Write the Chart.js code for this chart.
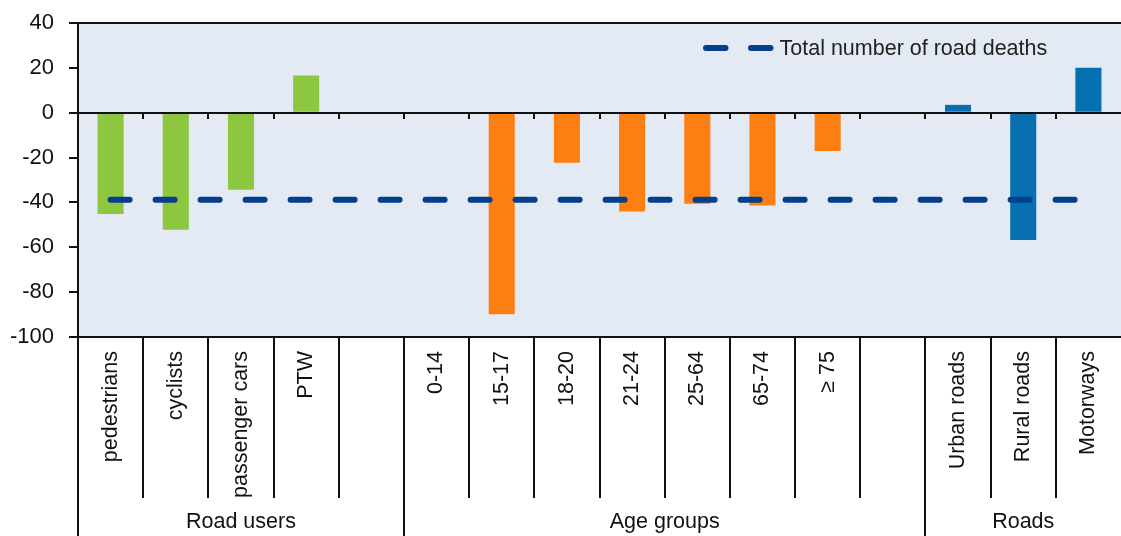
<!DOCTYPE html>
<html>
<head>
<meta charset="utf-8">
<script src="https://cdn.jsdelivr.net/npm/chart.js@4/dist/chart.umd.min.js"></script>
<style>
  html, body { margin: 0; padding: 0; background: #fff; }
  #wrap { width: 1121px; height: 536px; position: relative; }
</style>
</head>
<body>
<div id="wrap"><canvas id="chart"></canvas></div>
<script>
// Change in road deaths (%) by road user, age group and road type
const categories = ['pedestrians', 'cyclists', 'passenger cars', 'PTW', '',
  '0-14', '15-17', '18-20', '21-24', '25-64', '65-74', '\u2265 75', '',
  'Urban roads', 'Rural roads', 'Motorways'];
const changeValues = [-45.2, -52.2, -34.3, 16.6, null,
  0, -89.9, -22.3, -44.0, -40.6, -41.4, -17.1, null,
  3.5, -56.7, 20.0];
const totalDeaths = [-38.8, -38.8, -38.8, -38.8, -38.8, -38.8, -38.8, -38.8,
  -38.8, -38.8, -38.8, -38.8, -38.8, -38.8, -38.8, -38.8];
const groupNames = ['Road users', 'Age groups', 'Roads'];
const groupSizes = [5, 8, 3];
const yMin = -100, yMax = 40, yStep = 20;
const legendLabel = 'Total number of road deaths';

const FONT = "'Liberation Sans', Arial, sans-serif";
const groupColors = ['#8DC63F', '#FD7F12', '#0670B0'];
const barColors = [];
groupSizes.forEach((n, g) => { for (let i = 0; i < n; i++) barColors.push(groupColors[g]); });

const LINE_COLOR = '#053F8C';
const AXIS_COLOR = '#111111';
const PLOT_BG = '#E4EAF3';

const decorations = {
  id: 'decorations',
  beforeDraw(chart) {
    const { ctx, chartArea: a } = chart;
    ctx.save();
    ctx.fillStyle = PLOT_BG;
    ctx.fillRect(a.left, a.top, a.right - a.left, a.bottom - a.top);
    ctx.restore();
  },
  afterDraw(chart) {
    const { ctx, chartArea: a, scales: { x, y } } = chart;
    const H = chart.height;
    const seg = (x1, y1, x2, y2) => { ctx.beginPath(); ctx.moveTo(x1, y1); ctx.lineTo(x2, y2); ctx.stroke(); };
    ctx.save();
    ctx.strokeStyle = AXIS_COLOR;
    ctx.lineWidth = 2;
    // plot frame and zero line
    seg(a.left, a.top, a.right, a.top);
    seg(a.left, a.bottom, a.right, a.bottom);
    seg(a.left, a.top, a.left, H);
    const y0 = Math.round(y.getPixelForValue(0));
    seg(a.left, y0, a.right, y0);

    // category dividers below the axis, longer ones between groups
    const groupEnds = new Set();
    let acc = 0;
    groupSizes.forEach(n => { acc += n; groupEnds.add(acc); });
    for (let i = 1; i < categories.length; i++) {
      const bx = Math.round((x.getPixelForValue(i - 1) + x.getPixelForValue(i)) / 2);
      seg(bx, y0, bx, y0 + 6);
      if (groupEnds.has(i)) seg(bx, a.bottom, bx, H);
      else seg(bx, a.bottom, bx, a.bottom + 161);
    }

    // group captions
    ctx.fillStyle = '#111';
    ctx.font = '21.5px ' + FONT;
    ctx.textAlign = 'center';
    ctx.textBaseline = 'middle';
    let start = 0;
    groupNames.forEach((name, g) => {
      const end = start + groupSizes[g] - 1;
      const left = start === 0 ? a.left : (x.getPixelForValue(start - 1) + x.getPixelForValue(start)) / 2;
      const right = end === categories.length - 1 ? a.right : (x.getPixelForValue(end) + x.getPixelForValue(end + 1)) / 2;
      ctx.fillText(name, (left + right) / 2, 522);
      start += groupSizes[g];
    });

    // legend entry inside the plot
    const ly = a.top + 25;
    const lx = a.right - 415;
    ctx.strokeStyle = LINE_COLOR;
    ctx.lineWidth = 6;
    ctx.lineCap = 'round';
    ctx.setLineDash([19.5, 25.5]);
    seg(lx, ly, lx + 65, ly);
    ctx.setLineDash([]);
    ctx.textAlign = 'left';
    ctx.fillStyle = '#222';
    ctx.fillText(legendLabel, lx + 73.5, ly + 1);
    ctx.restore();
  }
};

new Chart(document.getElementById('chart'), {
  data: {
    labels: categories,
    datasets: [
      {
        type: 'line',
        label: legendLabel,
        data: totalDeaths,
        borderColor: LINE_COLOR,
        borderWidth: 6,
        borderDash: [19, 26],
        borderCapStyle: 'round',
        pointRadius: 0,
        fill: false,
        order: 0
      },
      {
        type: 'bar',
        label: 'Change',
        data: changeValues,
        backgroundColor: barColors,
        borderWidth: 0,
        barPercentage: 0.4,
        categoryPercentage: 1.0,
        order: 1
      }
    ]
  },
  options: {
    responsive: true,
    maintainAspectRatio: false,
    animation: false,
    layout: { padding: { top: 23, left: 0, right: 0, bottom: 0 } },
    plugins: { legend: { display: false }, tooltip: { enabled: false } },
    scales: {
      x: {
        offset: true,
        grid: { display: false },
        border: { display: false },
        ticks: {
          autoSkip: false,
          maxRotation: 90,
          minRotation: 90,
          padding: 6,
          color: '#111',
          font: { family: FONT, size: 21.5 }
        },
        afterFit(scale) {
          scale.height = 199;
          scale.paddingLeft = 0;
          scale.paddingRight = 0;
        }
      },
      y: {
        min: yMin,
        max: yMax,
        border: { display: false },
        grid: {
          drawOnChartArea: false,
          drawTicks: true,
          tickLength: 9,
          color: AXIS_COLOR,
          lineWidth: 2
        },
        ticks: {
          stepSize: yStep,
          padding: 15,
          color: '#111',
          font: { family: FONT, size: 22 }
        },
        afterFit(scale) {
          scale.width = 78;
          scale.paddingTop = 0;
          scale.paddingBottom = 0;
        }
      }
    }
  },
  plugins: [decorations]
});
</script>
</body>
</html>
